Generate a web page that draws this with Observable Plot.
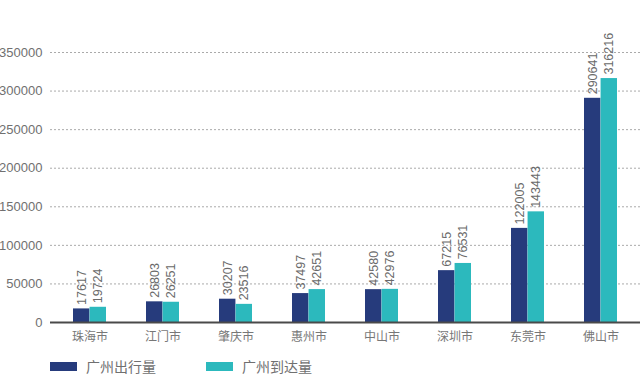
<!DOCTYPE html>
<html>
<head>
<meta charset="utf-8">
<script src="https://cdn.jsdelivr.net/npm/d3@7"></script>
<script src="https://cdn.jsdelivr.net/npm/@observablehq/plot@0.6"></script>
<style>
  html, body { margin: 0; padding: 0; background: #fff; }
  #wrap { position: relative; width: 640px; height: 375px; overflow: hidden;
          font-family: "Liberation Sans", "Noto Sans CJK SC", sans-serif; }
  .item { position: absolute; top: 357px; height: 18px; line-height: 18px; display: flex; align-items: center;
          font-size: 14px; color: #707070; font-family: "Noto Sans CJK SC", sans-serif; white-space: nowrap; }
  .sw { width: 27px; height: 9px; margin-right: 9px; }
</style>
</head>
<body>
<div id="wrap"><div id="chart"></div></div>
<script>
const cities = ["珠海市","江门市","肇庆市","惠州市","中山市","深圳市","东莞市","佛山市"];
const outbound = [17617, 26803, 30207, 37497, 42580, 67215, 122005, 290641];
const inbound = [19724, 26251, 23516, 42651, 42976, 76531, 143443, 316216];
const yTicks = [0, 50000, 100000, 150000, 200000, 250000, 300000, 350000];
const seriesNames = ["广州出行量", "广州到达量"];
const colors = ["#263b7c", "#2cb9bd"];

const data = cities.map((c, i) => ({city: c, out: outbound[i], inb: inbound[i]}));

const W = 640, H = 345;
const mL = 50, mR = 0;
const pInner = 0.55, pOuter = 0.28;
const step = (W - mL - mR) / (cities.length - pInner + 2 * pOuter);
const bw = step * (1 - pInner);
const half = bw / 2;

const chart = Plot.plot({
  width: W,
  height: H,
  marginLeft: mL,
  marginRight: mR,
  marginTop: 52,
  marginBottom: 23,
  style: {fontSize: "13px", color: "#707070", fontFamily: "Liberation Sans, Noto Sans CJK SC, sans-serif", background: "#fff"},
  x: {domain: cities, paddingInner: pInner, paddingOuter: pOuter, axis: null},
  y: {domain: [0, 350000], ticks: yTicks, tickFormat: d3.format("d"), tickSize: 0, tickPadding: 8, label: null},
  marks: [
    Plot.ruleY(yTicks.filter(d => d > 0), {stroke: "#aaa", strokeDasharray: "2,2", strokeWidth: 1}),
    Plot.barY(data, {x: "city", y: "out", fill: colors[0], insetRight: half}),
    Plot.barY(data, {x: "city", y: "inb", fill: colors[1], insetLeft: half}),
    Plot.ruleY([0], {stroke: "#4a4a4a", strokeWidth: 2}),
    Plot.text(data, {x: "city", y: "out", text: d => String(d.out), rotate: -90, textAnchor: "start",
      lineAnchor: "middle", dx: -half / 2, dy: -4, fill: "#6a6a6a", fontSize: 12.5}),
    Plot.text(data, {x: "city", y: "inb", text: d => String(d.inb), rotate: -90, textAnchor: "start",
      lineAnchor: "middle", dx: half / 2, dy: -4, fill: "#6a6a6a", fontSize: 12.5}),
    Plot.text(cities, {x: d => d, y: 0, text: d => d, dy: 15, fill: "#777", fontSize: 12,
      fontFamily: "Noto Sans CJK SC, sans-serif"})
  ]
});
document.getElementById("chart").appendChild(chart);

const wrap = document.getElementById("wrap");
const legendX = [50, 206];
seriesNames.forEach((name, i) => {
  const it = document.createElement("div");
  it.className = "item";
  it.style.left = legendX[i] + "px";
  const sw = document.createElement("div");
  sw.className = "sw";
  sw.style.background = colors[i];
  const t = document.createElement("span");
  t.textContent = name;
  it.appendChild(sw); it.appendChild(t);
  wrap.appendChild(it);
});
</script>
</body>
</html>
